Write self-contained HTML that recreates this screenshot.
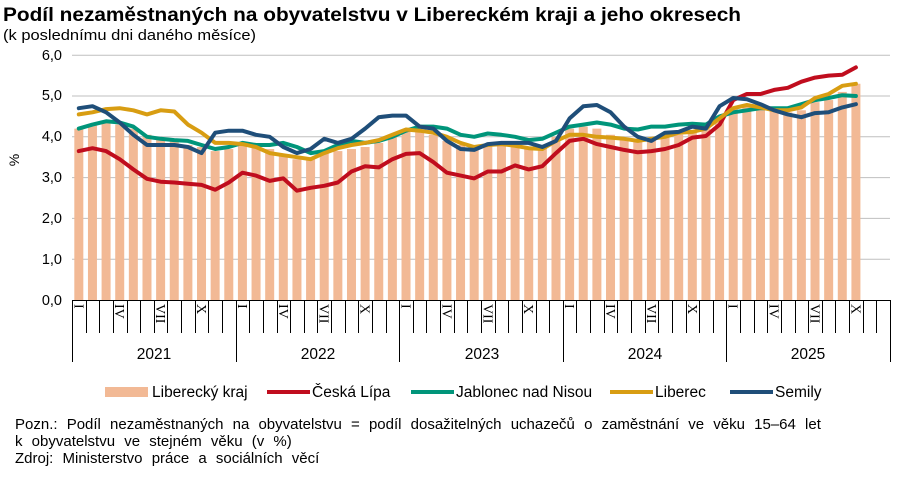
<!DOCTYPE html>
<html><head><meta charset="utf-8"><style>
html,body{margin:0;padding:0;background:#fff;}
body{width:904px;height:473px;overflow:hidden;font-family:"Liberation Sans",sans-serif;}
</style></head><body>
<svg id="s" width="904" height="473" xmlns="http://www.w3.org/2000/svg" font-family="Liberation Sans, sans-serif">
<text x="3" y="21" font-size="19" font-weight="bold" fill="#000" textLength="738" lengthAdjust="spacingAndGlyphs">Podíl nezaměstnaných na obyvatelstvu v Libereckém kraji a jeho okresech</text>
<text x="3" y="40" font-size="14.5" fill="#000" textLength="253" lengthAdjust="spacingAndGlyphs">(k poslednímu dni daného měsíce)</text>
<g id="grid" stroke="#bfbfbf" stroke-width="1"></g>
<g font-size="14.5" fill="#000" text-anchor="end">
<text x="62" y="305">0,0</text><text x="62" y="264">1,0</text><text x="62" y="223">2,0</text>
<text x="62" y="182">3,0</text><text x="62" y="141">4,0</text><text x="62" y="100">5,0</text><text x="62" y="60">6,0</text>
</g>
<text transform="translate(19,160) rotate(-90)" font-size="14" text-anchor="middle">%</text>
<g id="bars" fill="#f2b995"></g>
<g id="lines" fill="none" stroke-width="4" stroke-linejoin="round" stroke-linecap="round"></g>
<g id="ticks" stroke="#000" stroke-width="1"></g>
<g id="rom" font-family="Liberation Serif, serif" font-size="14"></g>
<g font-size="15.5" text-anchor="middle">
<text x="154" y="359">2021</text><text x="318" y="359">2022</text><text x="482" y="359">2023</text><text x="645" y="359">2024</text><text x="808" y="359">2025</text>
</g>
<rect x="105" y="387" width="43" height="10" fill="#f2b995"/>
<text x="152" y="397" font-size="15.5">Liberecký kraj</text>
<line x1="267" y1="392" x2="310" y2="392" stroke="#c00d1e" stroke-width="4"/>
<text x="312" y="397" font-size="15.5">Česká Lípa</text>
<line x1="411" y1="392" x2="454" y2="392" stroke="#00957a" stroke-width="4"/>
<text x="456" y="397" font-size="15.5">Jablonec nad Nisou</text>
<line x1="610" y1="392" x2="653" y2="392" stroke="#d89d12" stroke-width="4"/>
<text x="655" y="397" font-size="15.5">Liberec</text>
<line x1="730" y1="392" x2="773" y2="392" stroke="#1f4e79" stroke-width="4"/>
<text x="775" y="397" font-size="15.5">Semily</text>
<g font-size="15" word-spacing="5">
<text x="15" y="429">Pozn.: Podíl nezaměstnaných na obyvatelstvu = podíl dosažitelných uchazečů o zaměstnání ve věku 15–64 let</text>
<text x="15" y="446">k obyvatelstvu ve stejném věku (v %)</text>
<text x="15" y="463">Zdroj: Ministerstvo práce a sociálních věcí</text>
</g>
</svg>
<script>
var NS="http://www.w3.org/2000/svg";
function el(t,a,p){var e=document.createElementNS(NS,t);for(var k in a)e.setAttribute(k,a[k]);document.getElementById(p).appendChild(e);return e;}
var X0=72,W=818/60,Y=function(v){return 300-40.8*v;};
for(var g=1;g<=6;g++)el('line',{x1:X0,x2:890,y1:Y(g),y2:Y(g)},'grid');
var bar=[4.2,4.3,4.35,4.3,4.2,4.05,3.95,3.9,3.8,3.75,3.65,3.7,3.85,3.8,3.7,3.55,3.45,3.45,3.6,3.65,3.7,3.75,3.85,4.0,4.15,4.15,4.05,3.9,3.8,3.75,3.8,3.8,3.8,3.75,3.8,4.0,4.2,4.25,4.2,4.05,3.95,3.9,3.95,4.0,4.05,4.1,4.2,4.5,4.7,4.75,4.7,4.65,4.6,4.65,4.85,4.9,5.1,5.3];
var S={
"#c00d1e":[3.65,3.72,3.65,3.45,3.2,2.97,2.9,2.88,2.85,2.82,2.7,2.88,3.12,3.05,2.92,2.98,2.68,2.75,2.8,2.88,3.15,3.28,3.25,3.45,3.58,3.6,3.38,3.12,3.05,2.98,3.15,3.15,3.3,3.2,3.28,3.6,3.9,3.95,3.82,3.75,3.68,3.62,3.65,3.7,3.8,3.98,4.02,4.3,4.9,5.05,5.05,5.15,5.2,5.35,5.45,5.5,5.52,5.7],
"#00957a":[4.2,4.3,4.38,4.35,4.25,4.0,3.95,3.92,3.9,3.8,3.7,3.75,3.85,3.8,3.8,3.85,3.75,3.6,3.65,3.8,3.9,3.85,3.9,4.0,4.15,4.25,4.25,4.2,4.05,4.0,4.08,4.05,4.0,3.92,3.95,4.1,4.25,4.3,4.35,4.3,4.2,4.18,4.25,4.25,4.3,4.32,4.3,4.5,4.6,4.65,4.7,4.7,4.7,4.8,4.9,4.95,5.02,5.0],
"#d89d12":[4.55,4.6,4.68,4.7,4.65,4.55,4.65,4.62,4.3,4.1,3.85,3.85,3.82,3.75,3.6,3.55,3.5,3.45,3.6,3.72,3.8,3.85,3.92,4.05,4.18,4.15,4.1,4.0,3.85,3.75,3.8,3.82,3.78,3.72,3.7,3.9,4.05,4.05,4.0,3.98,3.95,3.9,3.95,4.0,4.1,4.12,4.2,4.45,4.7,4.78,4.72,4.65,4.65,4.72,4.95,5.05,5.25,5.3],
"#1f4e79":[4.7,4.75,4.6,4.35,4.05,3.8,3.8,3.8,3.75,3.6,4.1,4.15,4.15,4.05,4.0,3.75,3.6,3.7,3.95,3.85,3.95,4.2,4.48,4.52,4.52,4.25,4.2,3.9,3.7,3.68,3.82,3.85,3.85,3.85,3.75,3.9,4.45,4.75,4.78,4.6,4.25,4.0,3.9,4.1,4.12,4.25,4.2,4.75,4.95,4.92,4.8,4.65,4.55,4.48,4.58,4.6,4.72,4.8]};
bar.forEach(function(v,i){var cx=X0+W*(i+0.5);el('rect',{x:cx-4.5,y:Y(v),width:9,height:300-Y(v)},'bars');});
for(var c in S){var d=S[c].map(function(v,i){return (i?'L':'M')+(X0+W*(i+0.5)).toFixed(1)+','+Y(v).toFixed(1);}).join('');el('path',{d:d,stroke:c},'lines');}
el('line',{x1:X0,x2:890,y1:300.5,y2:300.5},'ticks');
for(var i=0;i<=60;i++){var x=Math.round(X0+W*i)+0.5;el('line',{x1:x,x2:x,y1:300,y2:(i%12==0)?362:333},'ticks');}
var R=["I","IV","VII","X"];
for(var y=0;y<5;y++)for(var k=0;k<4;k++){var cx=X0+W*(y*12+k*3+0.5);var t=el('text',{transform:'translate('+(cx-4.5)+',304) rotate(90)'},'rom');t.textContent=R[k];}
</script>
</body></html>
